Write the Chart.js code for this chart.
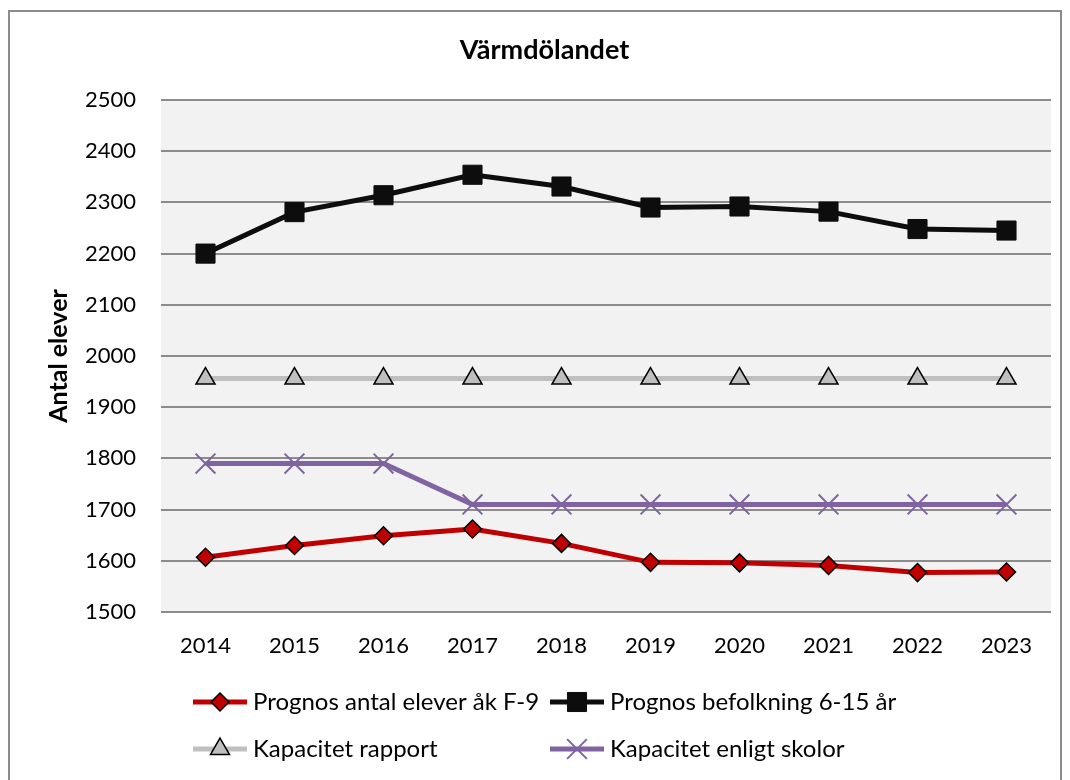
<!DOCTYPE html>
<html>
<head>
<meta charset="utf-8">
<script src="https://cdn.jsdelivr.net/npm/chart.js@4"></script>
<style>
  html, body { margin: 0; padding: 0; background: #fff; }
  #wrap { width: 1070px; height: 780px; position: relative; }
</style>
</head>
<body>
<div id="wrap"><canvas id="c" width="1070" height="780"></canvas></div>
<script>
const years = ['2014','2015','2016','2017','2018','2019','2020','2021','2022','2023'];
const prognosElever = [1607, 1630, 1649, 1662, 1634, 1597, 1596, 1591, 1577, 1578];
const prognosBefolkning = [2200, 2281, 2314, 2354, 2331, 2290, 2292, 2282, 2248, 2245];
const kapacitetRapport = [1956, 1956, 1956, 1956, 1956, 1956, 1956, 1956, 1956, 1956];
const kapacitetSkolor = [1790, 1790, 1790, 1710, 1710, 1710, 1710, 1710, 1710, 1710];
const yMin = 1500, yMax = 2500, yStep = 100;
const titleText = 'Värmdölandet';
const yTitleText = 'Antal elever';

const FONT = 'Lato, "Open Sans", sans-serif';

const frameAndBg = {
  id: 'frameAndBg',
  beforeDraw(chart) {
    const {ctx, chartArea: a} = chart;
    ctx.save();
    ctx.fillStyle = '#ffffff';
    ctx.fillRect(0, 0, chart.width, chart.height);
    ctx.fillStyle = '#f2f2f2';
    ctx.fillRect(a.left, a.top, a.right - a.left, a.bottom - a.top);
    ctx.strokeStyle = '#8c8c8c';
    ctx.lineWidth = 2;
    ctx.strokeRect(9, 11, 1052, 800);
    ctx.restore();
  }
};

const customLegend = {
  id: 'customLegend',
  afterDraw(chart) {
    const {ctx} = chart;
    const slots = [
      {x: 193, y: 702},
      {x: 550, y: 702},
      {x: 193, y: 749},
      {x: 550, y: 749}
    ];
    chart.data.datasets.forEach((ds, i) => {
      const s = slots[i];
      ctx.save();
      ctx.strokeStyle = ds.borderColor;
      ctx.lineWidth = ds.borderWidth;
      ctx.lineCap = 'butt';
      ctx.beginPath();
      ctx.moveTo(s.x, s.y);
      ctx.lineTo(s.x + 54, s.y);
      ctx.stroke();
      const opts = {
        pointStyle: ds.pointStyle,
        radius: ds.pointRadius,
        rotation: 0,
        borderWidth: ds.pointBorderWidth
      };
      ctx.fillStyle = ds.pointBackgroundColor;
      ctx.strokeStyle = ds.pointBorderColor;
      ctx.lineWidth = ds.pointBorderWidth;
      Chart.helpers.drawPoint(ctx, opts, s.x + 27, s.y);
      ctx.fillStyle = '#000';
      ctx.font = '24px ' + FONT;
      ctx.textBaseline = 'middle';
      ctx.textAlign = 'left';
      ctx.fillText(ds.label, s.x + 60, s.y);
      ctx.restore();
    });
  }
};

new Chart(document.getElementById('c'), {
  type: 'line',
  data: {
    labels: years,
    datasets: [
      {
        label: 'Prognos antal elever åk F-9',
        data: prognosElever,
        borderColor: '#c00000',
        borderWidth: 5,
        pointStyle: 'rectRot',
        pointRadius: 9,
        pointBackgroundColor: '#c00000',
        pointBorderColor: '#000000',
        pointBorderWidth: 1.5,
        order: 1
      },
      {
        label: 'Prognos befolkning 6-15 år',
        data: prognosBefolkning,
        borderColor: '#0d0d0d',
        borderWidth: 5,
        pointStyle: 'rect',
        pointRadius: 13.5,
        pointBackgroundColor: '#0d0d0d',
        pointBorderColor: '#0d0d0d',
        pointBorderWidth: 1,
        order: 2
      },
      {
        label: 'Kapacitet rapport',
        data: kapacitetRapport,
        borderColor: '#bfbfbf',
        borderWidth: 5,
        pointStyle: 'triangle',
        pointRadius: 11,
        pointBackgroundColor: '#bfbfbf',
        pointBorderColor: '#000000',
        pointBorderWidth: 1.5,
        order: 3
      },
      {
        label: 'Kapacitet enligt skolor',
        data: kapacitetSkolor,
        borderColor: '#8064a2',
        borderWidth: 5,
        pointStyle: 'crossRot',
        pointRadius: 14,
        pointBackgroundColor: '#8064a2',
        pointBorderColor: '#8064a2',
        pointBorderWidth: 2,
        order: 4
      }
    ]
  },
  options: {
    responsive: false,
    animation: false,
    devicePixelRatio: 1,
    elements: { line: { tension: 0 } },
    layout: { padding: { left: 38, right: 19, top: 0, bottom: 0 } },
    plugins: {
      legend: { display: false },
      tooltip: { enabled: false },
      title: {
        display: true,
        text: titleText,
        color: '#000',
        font: { family: FONT, size: 27, weight: 'bold', lineHeight: 1.2 },
        padding: { top: 34, bottom: 33.6 }
      }
    },
    scales: {
      x: {
        offset: true,
        grid: { display: false, drawTicks: false },
        border: { display: false },
        ticks: { color: '#000', font: { family: FONT, size: 22 }, padding: 21, maxRotation: 0 },
        afterFit(s) { s.height = 168; }
      },
      y: {
        min: yMin, max: yMax,
        ticks: {
          stepSize: yStep, color: '#000', font: { family: FONT, size: 22 }, padding: 25,
          callback: (v) => String(v)
        },
        grid: { color: '#8c8c8c', lineWidth: 2, drawTicks: false },
        border: { display: false },
        title: {
          display: true,
          text: yTitleText,
          color: '#000',
          font: { family: FONT, size: 25, weight: 'bold', lineHeight: 1.2 },
          padding: { top: 6, bottom: 0 }
        },
        afterFit(s) { s.width = 123; }
      }
    }
  },
  plugins: [frameAndBg, customLegend]
});
</script>
</body>
</html>
